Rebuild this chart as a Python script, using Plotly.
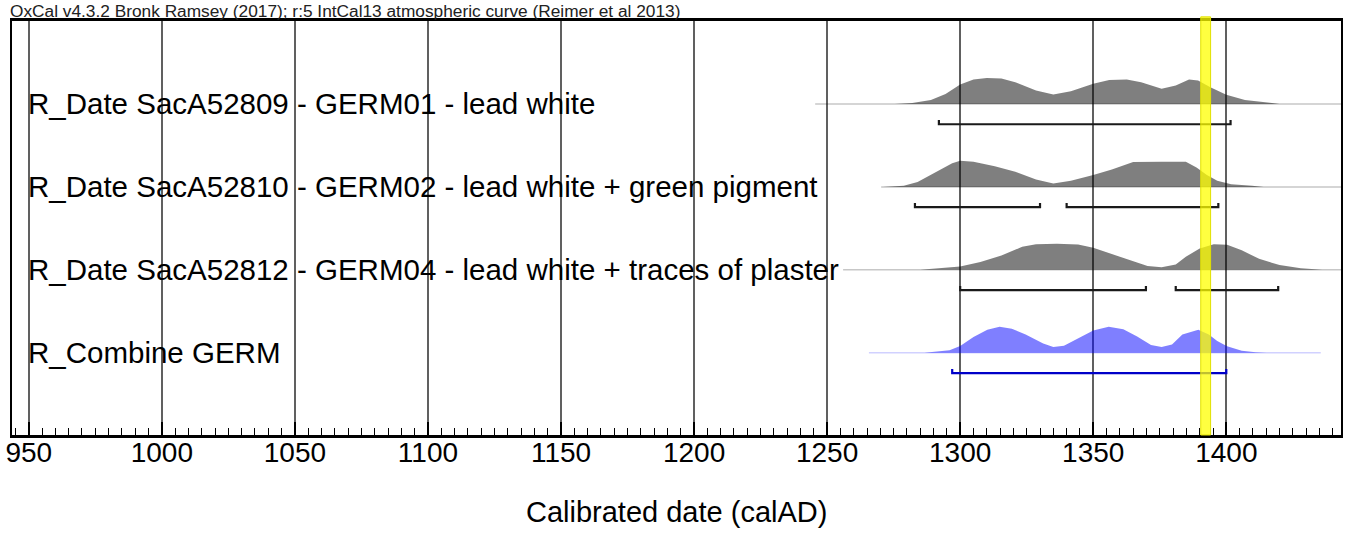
import plotly.graph_objects as go

# ---------------- data ----------------
labels = [
    "R_Date SacA52809 - GERM01 - lead white",
    "R_Date SacA52810 - GERM02 - lead white + green pigment",
    "R_Date SacA52812 - GERM04 - lead white + traces of plaster",
    "R_Combine GERM",
]

# probability densities (relative to max), calendar years AD
g1_years = [1275.5, 1282, 1289, 1294.5, 1300, 1305, 1310, 1315.5, 1320.7, 1328.5, 1335, 1341.6, 1350, 1356,
            1362.6, 1368, 1375.7, 1381, 1386, 1389.4, 1394, 1400, 1407, 1413.6, 1420]
g1_dens = [0.0, 0.04, 0.15, 0.38, 0.74, 0.94, 0.99, 0.97, 0.83, 0.51, 0.36, 0.49, 0.77, 0.92,
           0.94, 0.83, 0.58, 0.71, 0.94, 0.9, 0.64, 0.35, 0.15, 0.06, 0.0]

g2_years = [1271, 1278.8, 1284, 1292, 1297, 1300, 1305, 1313, 1320.7, 1328.5, 1335, 1341.6, 1350, 1357,
            1365, 1375.7, 1384.8, 1388.8, 1392.7, 1396.6, 1401.8, 1409.7, 1414]
g2_dens = [0.0, 0.04, 0.19, 0.64, 0.9, 1.0, 0.96, 0.79, 0.58, 0.28, 0.13, 0.23, 0.45, 0.67,
           0.95, 0.96, 0.96, 0.74, 0.45, 0.23, 0.1, 0.04, 0.0]

g4_years = [1285, 1295.8, 1300, 1307.6, 1315.5, 1323.3, 1328.5, 1336.4, 1344.3, 1350, 1357, 1365, 1370.4,
            1375.7, 1381, 1384.8, 1390, 1395.3, 1400.3, 1405.8, 1412.3, 1420, 1428, 1436]
g4_dens = [0.0, 0.08, 0.13, 0.3, 0.55, 0.88, 0.98, 1.0, 0.97, 0.84, 0.6, 0.33, 0.15,
           0.1, 0.2, 0.5, 0.82, 0.98, 0.96, 0.75, 0.42, 0.18, 0.06, 0.0]

comb_years = [1286.6, 1296, 1300, 1305, 1310.2, 1314.8, 1319.4, 1324.6, 1331.2, 1335, 1339, 1344.3, 1350,
              1355.8, 1361.3, 1366.5, 1371.7, 1375.7, 1379.6, 1383.5, 1389.5, 1393.4, 1396.6, 1400.3,
              1405.8, 1411, 1415]
comb_dens = [0.0, 0.1, 0.26, 0.6, 0.88, 1.0, 0.92, 0.7, 0.35, 0.22, 0.27, 0.55, 0.85,
             1.0, 0.9, 0.62, 0.3, 0.22, 0.32, 0.7, 0.88, 0.7, 0.45, 0.25,
             0.08, 0.02, 0.0]

density_years = [g1_years, g2_years, g4_years, comb_years]
density_values = [g1_dens, g2_dens, g4_dens, comb_dens]

# calibration ranges drawn as thin baselines
range_start = [1245.5, 1270.3, 1256, 1265.7]
range_end = [1443.5, 1443.5, 1443.5, 1435.5]

# 95.4% hpd ranges (brackets)
hpd_ranges = [
    [(1292, 1401.6)],
    [(1283, 1330), (1340, 1397)],
    [(1300, 1369.8), (1381, 1419.5)],
    [(1297, 1400)],
]

highlight = [1390.4, 1394.1]

tick_values = [950, 1000, 1050, 1100, 1150, 1200, 1250, 1300, 1350, 1400]
x_range = [943.7, 1443.1]

header = "OxCal v4.3.2 Bronk Ramsey (2017); r:5 IntCal13 atmospheric curve (Reimer et al 2013)"
x_title = "Calibrated date (calAD)"

# ---------------- styles ----------------
FONT = "Liberation Sans, Arial, sans-serif"
fill_cols = ["rgba(0,0,0,0.5)"] * 3 + ["rgba(0,0,255,0.5)"]
base_cols = ["rgba(0,0,0,0.22)"] * 3 + ["rgba(0,0,255,0.18)"]
brk_cols = ["#1a1a1a"] * 3 + ["#0000c8"]
PEAK_H = 0.315      # peak height in row units
BRK_OFF = 0.245     # bracket offset below baseline
BRK_TICK = 0.05

W, H = 1346, 533
ML, MR, MT, MB = 12, 3, 21, 98
PW = W - ML - MR

fig = go.Figure()

for i in range(len(labels)):
    base = -(i + 1)
    fig.add_trace(go.Scatter(x=[range_start[i], range_end[i]], y=[base, base], mode="lines",
                             line=dict(color=base_cols[i], width=1.5), hoverinfo="skip",
                             showlegend=False))
    xs = density_years[i] + density_years[i][::-1]
    ys = [base + d * PEAK_H for d in density_values[i]] + [base] * len(density_years[i])
    fig.add_trace(go.Scatter(x=xs, y=ys, fill="toself", mode="lines",
                             line=dict(width=0, color=fill_cols[i]), fillcolor=fill_cols[i],
                             hoverinfo="skip", showlegend=False))
    for (a, b) in hpd_ranges[i]:
        yb = base - BRK_OFF
        fig.add_trace(go.Scatter(x=[a, a, b, b], y=[yb + BRK_TICK, yb, yb, yb + BRK_TICK],
                                 mode="lines", line=dict(color=brk_cols[i], width=2.2),
                                 hoverinfo="skip", showlegend=False))
    fig.add_annotation(x=14.5 / PW, xref="paper", y=base, yref="y", text=labels[i],
                       showarrow=False, xanchor="left", yanchor="middle",
                       font=dict(family=FONT, size=29.5, color="black"))

fig.add_shape(type="rect", x0=highlight[0], x1=highlight[1], xref="x", y0=0, y1=1.01, yref="paper",
              fillcolor="rgba(255,255,0,0.75)", line=dict(color="rgba(225,225,0,1)", width=1),
              layer="above")

fig.add_annotation(x=0, xref="paper", y=1, yref="paper", text=header, showarrow=False,
                   xanchor="left", yanchor="bottom", xshift=-3, yshift=-1, borderpad=0,
                   font=dict(family=FONT, size=17.3, color="#222"))

fig.add_annotation(x=0.5, xref="paper", y=0, yref="paper", text=x_title, showarrow=False,
                   xanchor="center", yanchor="middle", yshift=-77,
                   font=dict(family=FONT, size=29, color="black"))

fig.update_layout(
    width=W, height=H,
    margin=dict(l=ML, r=MR, t=MT, b=MB),
    paper_bgcolor="white", plot_bgcolor="white",
    font=dict(family=FONT, color="black"),
    xaxis=dict(range=x_range, tickvals=tick_values, ticktext=[str(v) for v in tick_values],
               showgrid=True, gridcolor="#606060", gridwidth=1.6,
               ticks="inside", ticklen=13, tickwidth=2, tickcolor="black",
               minor=dict(dtick=5, tick0=950, ticks="inside", ticklen=7, tickwidth=1.2,
                          tickcolor="black", showgrid=False),
               showline=True, linecolor="black", linewidth=2.5, mirror=True,
               zeroline=False, tickfont=dict(family=FONT, size=28, color="black"),
               ticklabelstandoff=-9, ticklabeloverflow="allow"),
    yaxis=dict(range=[-414.3 / 83, 0], showgrid=False, zeroline=False, showticklabels=False,
               ticks="", showline=True, linecolor="black", linewidth=2, mirror=True),
)

fig.write_html("out.html", config={"displayModeBar": False},
               post_script="document.body.style.margin='0';document.body.style.overflow='hidden';")
